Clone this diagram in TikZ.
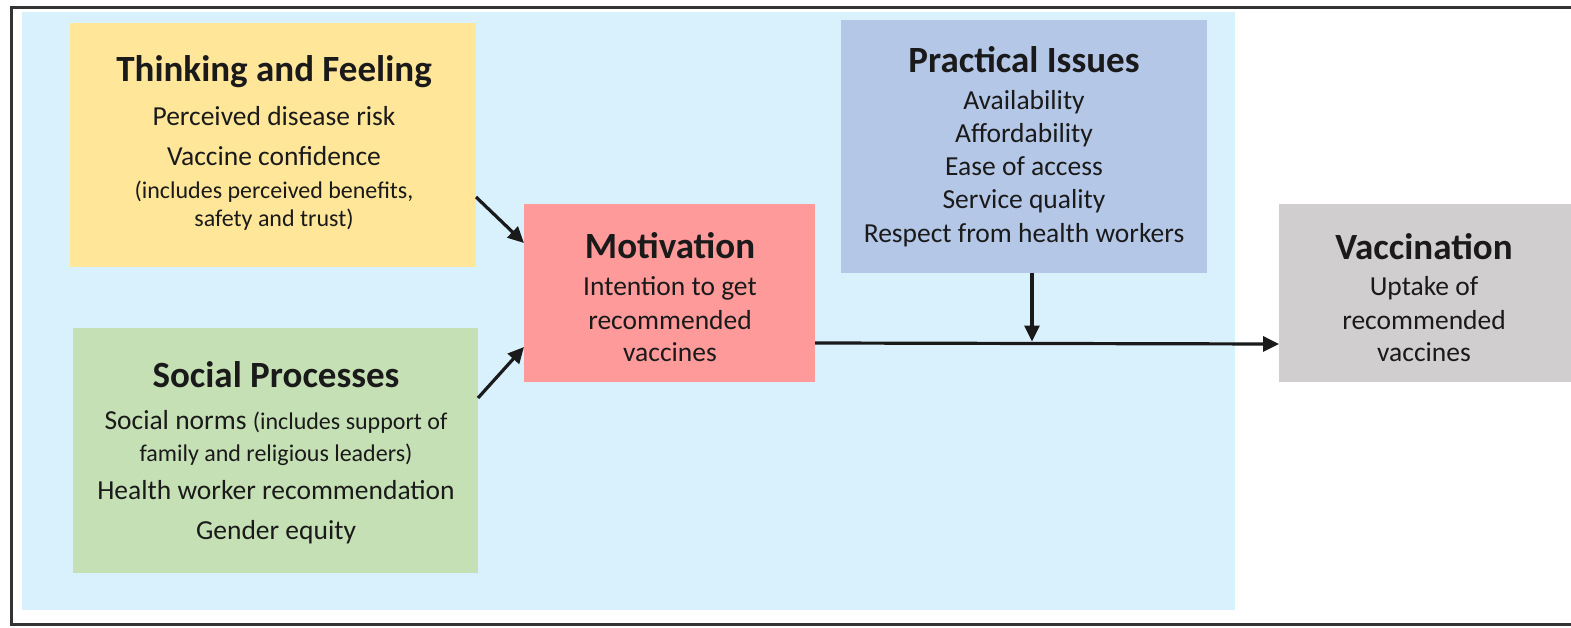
\documentclass[tikz,border=0pt]{standalone}
\usepackage{fontspec}
\setmainfont{Carlito}
\usetikzlibrary{arrows.meta}
\definecolor{bgblue}{HTML}{D9F1FC}
\definecolor{yel}{HTML}{FFE699}
\definecolor{grn}{HTML}{C5E0B4}
\definecolor{rd}{HTML}{FF9A9A}
\definecolor{blu}{HTML}{B4C7E7}
\definecolor{gry}{HTML}{D0CECE}
\definecolor{ink}{HTML}{1A1A1A}
\definecolor{frame}{HTML}{333333}
\begin{document}
\begin{tikzpicture}[x=1pt,y=-1pt,
  box/.style={draw=none,inner sep=0pt,outer sep=0pt},
  ttl/.style={inner sep=0pt,anchor=base,text=ink,font=\fontsize{37}{40}\selectfont\bfseries},
  bd/.style={inner sep=0pt,anchor=base,text=ink,font=\fontsize{27.5}{33}\selectfont},
  sm/.style={inner sep=0pt,anchor=base,text=ink,font=\fontsize{24}{28}\selectfont},
  arr/.style={-{Triangle[length=16pt,width=15pt]},line width=3.2pt,draw=ink}]
\useasboundingbox (0,0) rectangle (1571,628);
\fill[white] (0,0) rectangle (1571,628);
% light blue zone
\fill[bgblue] (22,12) rectangle (1235,610);
% frame
\draw[frame,line width=3pt] (1580,8) -- (11,8) -- (11,624) -- (1580,624);
% boxes
\node[box,fill=yel,minimum width=406pt,minimum height=244pt] (think) at (273,145) {};
\node[box,fill=grn,minimum width=405pt,minimum height=245pt] (soc) at (275.5,450.5) {};
\node[box,fill=rd,minimum width=291pt,minimum height=178pt] (mot) at (669.5,293) {};
\node[box,fill=blu,minimum width=366pt,minimum height=253pt] (prac) at (1024,146.5) {};
\node[box,fill=gry,minimum width=293pt,minimum height=178pt] (vac) at (1425.5,293) {};
% texts: thinking and feeling
\node[ttl] (t1) at (274,82) {Thinking and Feeling};
\node[bd] (t2) at (274,126) {Perceived disease risk};
\node[bd] (t3) at (274,166) {Vaccine confidence};
\node[sm] (t4) at (274,198.5) {(includes perceived benefits,};
\node[sm] (t5) at (274,226.5) {safety and trust)};
% social processes
\node[ttl] (s1) at (276,387) {Social Processes};
\node[bd] (s2) at (276,429) {Social norms {\fontsize{24}{28}\selectfont(includes support of}};
\node[sm] (s3) at (276,461) {family and religious leaders)};
\node[bd] (s4) at (276,499) {Health worker recommendation};
\node[bd] (s5) at (276,539) {Gender equity};
% motivation
\node[ttl] (m1t) at (670,259) {Motivation};
\node[bd] (m2t) at (670,295) {Intention to get};
\node[bd] (m3t) at (670,329) {recommended};
\node[bd] (m4t) at (670,361) {vaccines};
% practical issues
\node[ttl] (p1t) at (1024,73) {Practical Issues};
\node[bd] (p2t) at (1024,110) {Availability};
\node[bd] (p3t) at (1024,143) {Affordability};
\node[bd] (p4t) at (1024,176) {Ease of access};
\node[bd] (p5t) at (1024,209) {Service quality};
\node[bd] (p6t) at (1024,243) {Respect from health workers};
% vaccination
\node[ttl] (v1t) at (1424,260) {Vaccination};
\node[bd] (v2t) at (1424,295) {Uptake of};
\node[bd] (v3t) at (1424,329) {recommended};
\node[bd] (v4t) at (1424,361) {vaccines};
% connectors
\coordinate (a1s) at ([yshift=-52pt]think.east);
\coordinate (a1e) at ([yshift=50pt]mot.west);
\coordinate (a2s) at ([yshift=52.5pt]soc.east);
\coordinate (a2e) at ([yshift=-54pt]mot.west);
\coordinate (ms) at ([yshift=-50pt]mot.east);
\coordinate (me) at ([yshift=-51pt]vac.west);
\coordinate (ps) at ([xshift=8pt]prac.south);
\coordinate (pe) at ([yshift=1.5pt]ps |- ms);
\draw[arr] (a1s) -- (a1e);
\draw[arr] (a2s) -- (a2e);
\draw[arr] (ms) -- (me);
\draw[arr] (ps) -- (pe);
\end{tikzpicture}
\end{document}
